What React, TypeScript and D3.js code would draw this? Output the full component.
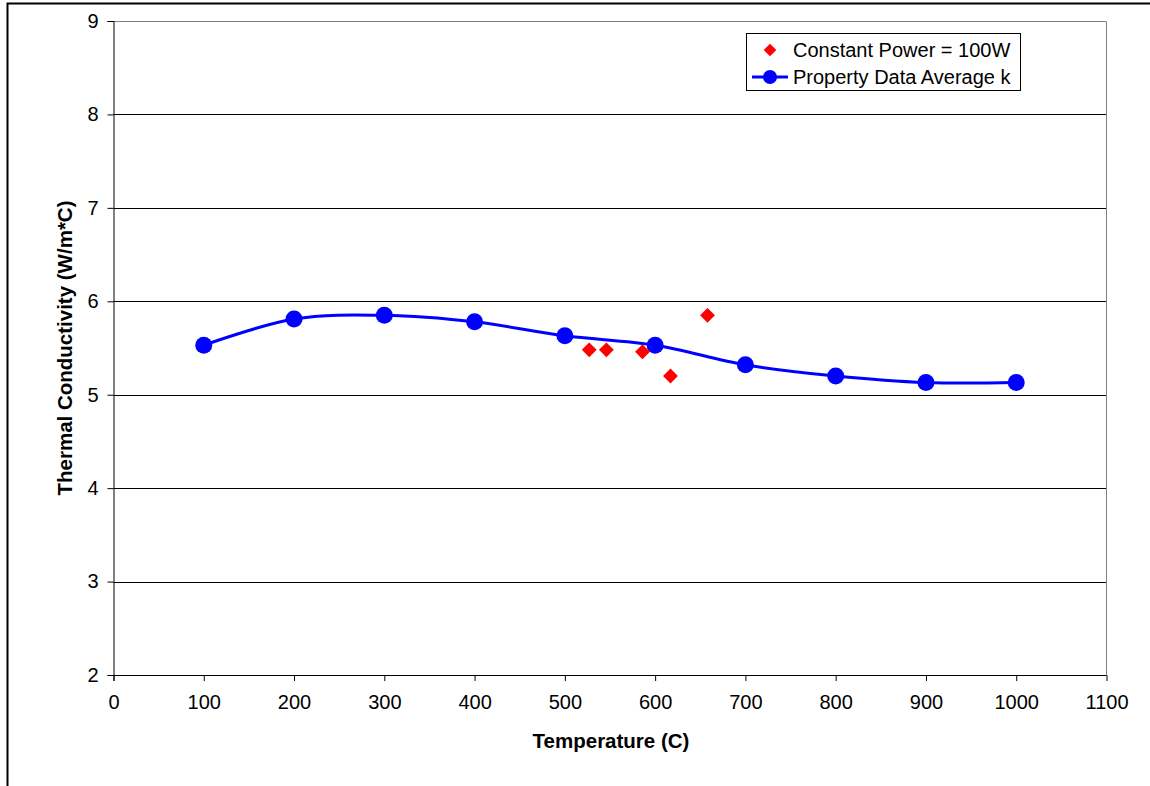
import React, { useEffect, useRef } from 'react'
import * as d3 from 'd3'

// series: property data average k
const propTemps = [100, 200, 300, 400, 500, 600, 700, 800, 900, 1000]
const propK = [5.53, 5.81, 5.85, 5.78, 5.63, 5.53, 5.32, 5.2, 5.13, 5.13]

// series: constant power = 100W
const powerTemps = [527, 546, 586, 617, 658]
const powerK = [5.48, 5.48, 5.46, 5.2, 5.85]

const xTicks = [0, 100, 200, 300, 400, 500, 600, 700, 800, 900, 1000, 1100]
const yTicks = [2, 3, 4, 5, 6, 7, 8, 9]

const W = 1150
const H = 786
const font = 'Liberation Sans, Arial, sans-serif'

const App = () => {
  const ref = useRef<SVGSVGElement>(null)

  useEffect(() => {
    const svg = d3.select(ref.current)
    svg.selectAll('*').remove()

    const x = d3.scaleLinear().domain([0, 1100]).range([113.5, 1106.5])
    const y = d3.scaleLinear().domain([2, 9]).range([675, 21])

    // outer chart frame
    svg.append('path')
      .attr('d', `M7.5,${H} V3.5 H${W}`)
      .attr('fill', 'none')
      .attr('stroke', '#000')
      .attr('stroke-width', 2)

    // gridlines
    svg.append('g').selectAll('line')
      .data(yTicks.filter(t => t > 2 && t < 9))
      .enter().append('line')
      .attr('x1', x(0)).attr('x2', x(1100))
      .attr('y1', d => Math.round(y(d)) + 0.5).attr('y2', d => Math.round(y(d)) + 0.5)
      .attr('stroke', '#000')

    // plot area border top / right
    svg.append('path')
      .attr('d', `M${x(0)},${y(9) + 0.5} H${x(1100)} V${y(2)}`)
      .attr('fill', 'none')
      .attr('stroke', '#808080')

    // axes
    const yAxis = d3.axisLeft(y).tickValues(yTicks).tickSize(6).tickPadding(9).tickFormat(d3.format('d'))
    const gy = svg.append('g').attr('transform', `translate(${x(0)},0)`).call(yAxis)
    const xAxis = d3.axisBottom(x).tickValues(xTicks).tickSize(6).tickPadding(14).tickFormat(d3.format('d'))
    const gx = svg.append('g').attr('transform', `translate(0,${y(2)})`).call(xAxis)
    ;[gx, gy].forEach(g => {
      g.selectAll('.domain').attr('stroke', '#000')
      g.selectAll('.tick line').attr('stroke', '#000')
      g.selectAll('text').attr('font-family', font).attr('font-size', 20).attr('fill', '#000')
    })
    gx.select('.tick:last-child line').attr('stroke', '#808080')

    // axis titles
    svg.append('text')
      .attr('x', 611).attr('y', 748)
      .attr('text-anchor', 'middle')
      .attr('font-family', font).attr('font-weight', 'bold').attr('font-size', 20.5)
      .text('Temperature (C)')
    svg.append('text')
      .attr('transform', 'translate(72,348) rotate(-90)')
      .attr('text-anchor', 'middle')
      .attr('font-family', font).attr('font-weight', 'bold').attr('font-size', 20.5)
      .text('Thermal Conductivity (W/m*C)')

    // smoothed line
    const line = d3.line<number>()
      .x((_, i) => x(propTemps[i]))
      .y(d => y(d))
      .curve(d3.curveCatmullRom.alpha(0.5))
    svg.append('path')
      .attr('d', line(propK))
      .attr('fill', 'none')
      .attr('stroke', '#0000ff')
      .attr('stroke-width', 3)

    svg.append('g').selectAll('circle')
      .data(propK)
      .enter().append('circle')
      .attr('cx', (_, i) => x(propTemps[i]))
      .attr('cy', d => y(d))
      .attr('r', 8.5)
      .attr('fill', '#0000ff')

    const diamond = d3.symbol().type(d3.symbolSquare).size(110)
    svg.append('g').selectAll('path')
      .data(powerK)
      .enter().append('path')
      .attr('d', diamond)
      .attr('transform', (d, i) => `translate(${x(powerTemps[i])},${y(d)}) rotate(45)`)
      .attr('fill', '#ff0000')

    // legend
    const lg = svg.append('g')
    lg.append('rect')
      .attr('x', 746.5).attr('y', 33.5).attr('width', 274).attr('height', 57)
      .attr('fill', '#fff').attr('stroke', '#000')
    lg.append('path')
      .attr('d', d3.symbol().type(d3.symbolSquare).size(80))
      .attr('transform', 'translate(770,50) rotate(45)')
      .attr('fill', '#ff0000')
    lg.append('line')
      .attr('x1', 752).attr('x2', 788).attr('y1', 77).attr('y2', 77)
      .attr('stroke', '#0000ff').attr('stroke-width', 3)
    lg.append('circle').attr('cx', 770).attr('cy', 77).attr('r', 7).attr('fill', '#0000ff')
    const labels = ['Constant Power = 100W', 'Property Data Average k']
    lg.selectAll('text.lbl')
      .data(labels)
      .enter().append('text')
      .attr('x', 793).attr('y', (_, i) => 57 + i * 27)
      .attr('font-family', font).attr('font-size', 20)
      .text(d => d)
  }, [])

  return (
    <div style={{ position: 'absolute', left: 0, top: 0 }}>
      <svg ref={ref} width={W} height={H} style={{ display: 'block', background: '#fff' }} />
    </div>
  )
}

export default App
